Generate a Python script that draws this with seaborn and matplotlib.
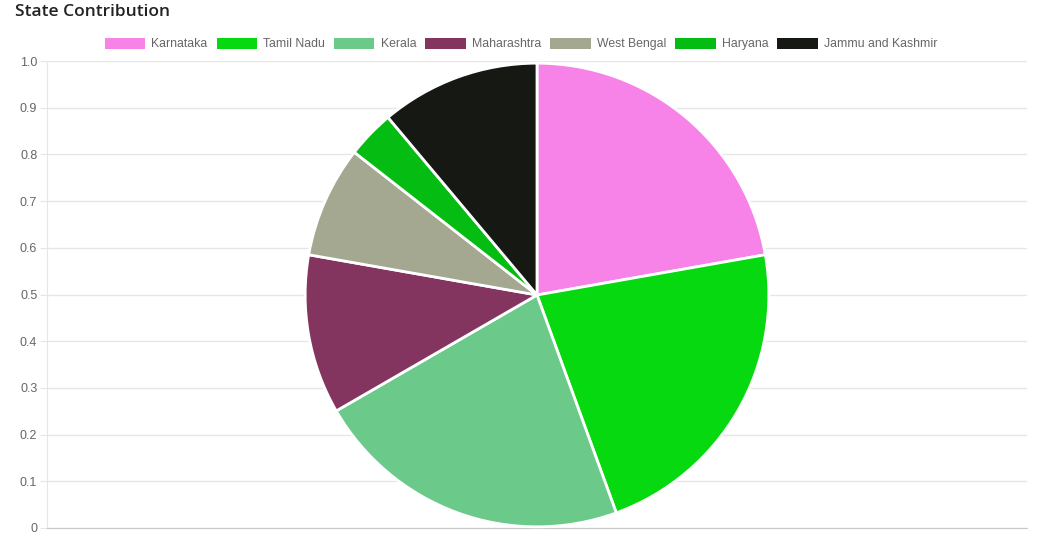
import matplotlib
matplotlib.use("Agg")
import matplotlib.pyplot as plt
from matplotlib.patches import Patch
import seaborn as sns

# Data
states = ['Karnataka', 'Tamil Nadu', 'Kerala', 'Maharashtra',
          'West Bengal', 'Haryana', 'Jammu and Kashmir']
contribution = [6, 6, 6, 3, 2.1, 0.9, 3]
colors = ['#f783e8', '#06d90f', '#6bca8a', '#833560',
          '#a5a891', '#05bc12', '#161814']
y_ticks = [0, 0.1, 0.2, 0.3, 0.4, 0.5, 0.6, 0.7, 0.8, 0.9, 1.0]
y_labels = ['0', '0.1', '0.2', '0.3', '0.4', '0.5', '0.6', '0.7', '0.8', '0.9', '1.0']

sns.set_style('white')
plt.rcParams['font.family'] = ['Liberation Sans', 'DejaVu Sans']

W, H = 1039, 544
fig = plt.figure(figsize=(W / 100, H / 100), dpi=100)
fig.patch.set_facecolor('white')

# background axes with the empty 0..1 scale
ax = fig.add_axes([47 / W, 16 / H, 980 / W, 467 / H])
ax.set_ylim(0, 1.0)
ax.set_xlim(0, 1)
ax.set_yticks(y_ticks)
ax.set_yticklabels(y_labels)
ax.set_xticks([])
ax.grid(axis='y', color='#e6e6e6', linewidth=1)
ax.set_axisbelow(True)
for side in ['top', 'right']:
    ax.spines[side].set_visible(False)
ax.spines['left'].set_color('#e6e6e6')
ax.spines['bottom'].set_color('#c8c8c8')
ax.tick_params(axis='y', length=5, color='#e6e6e6', labelcolor='#666666',
               labelsize=9, left=True, pad=2)

# pie on its own axes, centred over the plot area
pax = fig.add_axes([304 / W, 16 / H, 466 / W, 466 / H])
wedges, _ = pax.pie(contribution, colors=colors, startangle=90, counterclock=False,
                    wedgeprops=dict(edgecolor='white', linewidth=2))
pax.set_xlim(-1.005, 1.005)
pax.set_ylim(-1.005, 1.005)
pax.set_aspect('equal')
pax.axis('off')

handles = [Patch(facecolor=c, edgecolor='none') for c in colors]
leg = fig.legend(handles, states, loc='center', bbox_to_anchor=(521 / W, 1 - 44 / H),
                 ncol=7, frameon=False, fontsize=8.8, handlelength=3.3, handleheight=1.05,
                 handletextpad=0.5, columnspacing=0.75, labelcolor='#666666')

fig.text(15 / W, 1 - 12 / H, 'State Contribution', fontsize=12.5, fontweight='semibold',
         color='#222222', va='center', ha='left', family=['Open Sans', 'DejaVu Sans'])

fig.savefig('out.png', dpi=100)
